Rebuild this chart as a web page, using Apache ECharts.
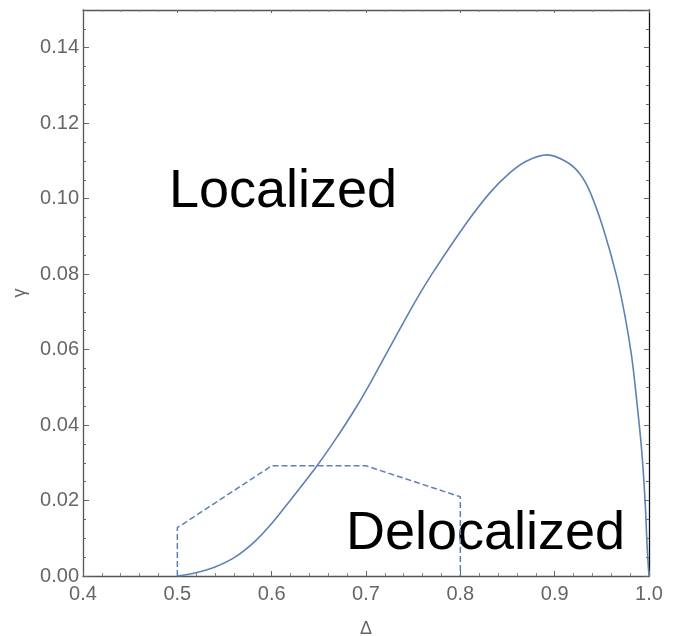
<!DOCTYPE html>
<html>
<head>
<meta charset="utf-8">
<script src="https://cdn.jsdelivr.net/npm/echarts@6/dist/echarts.min.js"></script>
<style>html,body{margin:0;padding:0;background:#fff}#c{width:680px;height:636px}</style>
</head>
<body>
<div id="c"></div>
<script>
// Phase boundary (solid curve): [Delta, gamma]
const boundaryDelta = [0.50, 0.5187, 0.540, 0.5611, 0.5823, 0.600, 0.6211, 0.6477, 0.6671, 0.6883, 0.706, 0.736, 0.7537, 0.7714, 0.8067, 0.8315, 0.8527, 0.8704, 0.892, 0.9128, 0.927, 0.9375, 0.9516, 0.9657, 0.9746, 0.9816, 0.9869, 0.9922, 0.9958, 0.9982, 1.0];
const boundaryGamma = [0.0, 0.0008, 0.0024, 0.0050, 0.0092, 0.0139, 0.0205, 0.0291, 0.0360, 0.0442, 0.0518, 0.0655, 0.0734, 0.0806, 0.0936, 0.1016, 0.1069, 0.1100, 0.1116, 0.1097, 0.1065, 0.1018, 0.0920, 0.0794, 0.0688, 0.0582, 0.0467, 0.0334, 0.0201, 0.0070, 0.0];
// Dashed polygon
const dashDelta = [0.5, 0.5, 0.6, 0.7, 0.8, 0.8];
const dashGamma = [0.0, 0.0128, 0.0292, 0.0292, 0.021, 0.0];
// Axis ticks
const xTicks = [0.4, 0.5, 0.6, 0.7, 0.8, 0.9, 1.0];
const yTicks = [0.00, 0.02, 0.04, 0.06, 0.08, 0.10, 0.12, 0.14];
const regionLabels = ['Localized', 'Delocalized'];

const lineColor = '#5E81B5';
const boundary = boundaryDelta.map((d, i) => [d, boundaryGamma[i]]);
const dashed = dashDelta.map((d, i) => [d, dashGamma[i]]);

const chart = echarts.init(document.getElementById('c'), null, {renderer: 'canvas'});
const font = 'Liberation Sans, Arial, sans-serif';
const labelColor = '#666';

function xAx(pos, showLabel, lineCol, extra) {
  return Object.assign({
    type: 'value', position: pos, min: xTicks[0], max: xTicks[xTicks.length - 1], interval: 0.1,
    axisLine: {show: true, onZero: false, lineStyle: {color: lineCol, width: 1.3}},
    axisTick: {show: true, inside: true, length: 5, lineStyle: {color: '#666'}},
    minorTick: {show: true, splitNumber: 5, length: 3, lineStyle: {color: '#888'}},
    splitLine: {show: false},
    axisLabel: {show: showLabel, color: labelColor, fontSize: 20, fontFamily: font, margin: 8,
      formatter: v => v.toFixed(1)}
  }, extra || {});
}
function yAx(pos, showLabel, lineCol, interval, tickLen, extra) {
  return Object.assign({
    type: 'value', position: pos, min: yTicks[0], max: 0.15, interval: interval,
    axisLine: {show: lineCol !== null, onZero: false, lineStyle: {color: lineCol || '#000', width: 1.3}},
    axisTick: {show: true, inside: true, length: tickLen, lineStyle: {color: '#666'}},
    splitLine: {show: false},
    axisLabel: {show: showLabel, color: labelColor, fontSize: 20, fontFamily: font, margin: 4,
      showMaxLabel: false, formatter: v => v.toFixed(2)}
  }, extra || {});
}

chart.setOption({
  backgroundColor: '#fff',
  animation: false,
  grid: {left: 83, right: 31, top: 10, bottom: 60, containLabel: false, outerBoundsMode: 'none'},
  xAxis: [
    xAx('bottom', true, '#555', {name: 'Δ', nameLocation: 'middle', nameGap: 44,
      nameTextStyle: {color: labelColor, fontSize: 18, fontFamily: font}}),
    xAx('top', false, '#555', {axisTick: {show: true, inside: true, length: 3, lineStyle: {color: '#666'}},
      minorTick: {show: true, splitNumber: 5, length: 2, lineStyle: {color: '#888'}}})
  ],
  yAxis: [
    yAx('left', true, '#555', 0.02, 6, {name: 'γ', nameLocation: 'middle', nameGap: 54, nameRotate: 90,
      nameTextStyle: {color: labelColor, fontSize: 18, fontFamily: font}}),
    yAx('left', false, null, 0.005, 3),
    yAx('right', false, '#111', 0.02, 5),
    yAx('right', false, null, 0.005, 3)
  ],
  series: [
    {type: 'line', xAxisIndex: 0, yAxisIndex: 0, data: boundary, showSymbol: false, smooth: 0.35,
      lineStyle: {color: lineColor, width: 1.6}, z: 3},
    {type: 'line', xAxisIndex: 0, yAxisIndex: 0, data: dashed, showSymbol: false,
      lineStyle: {color: lineColor, width: 1.5, type: [6, 3]}, z: 2}
  ],
  graphic: [
    {type: 'text', left: 169, top: 165, style: {text: regionLabels[0], font: '54px ' + font, fill: '#000'}},
    {type: 'text', left: 346, top: 507, style: {text: regionLabels[1], font: '54px ' + font, fill: '#000'}}
  ]
});
</script>
</body>
</html>
